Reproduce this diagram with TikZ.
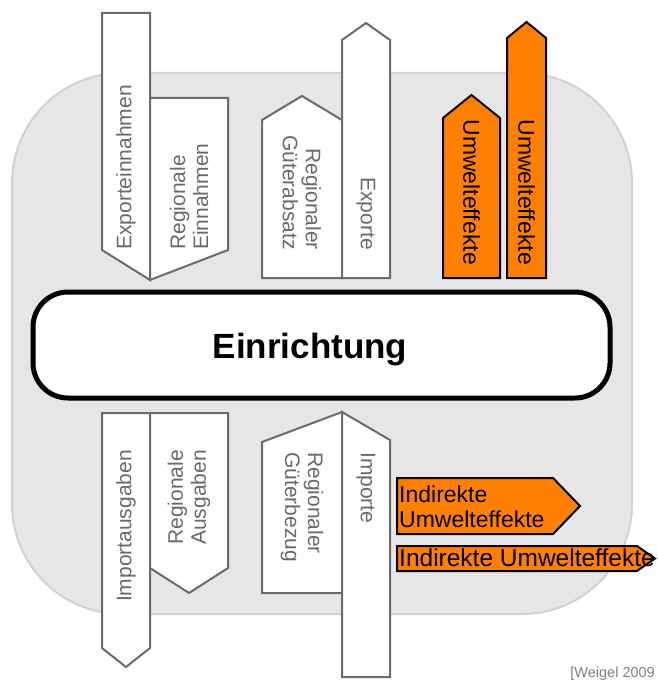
\documentclass[tikz,border=0pt]{standalone}
\usepackage{fontspec}
\setmainfont{Liberation Sans}
\definecolor{panelfill}{HTML}{E6E6E6}
\definecolor{paneledge}{HTML}{D2D2D2}
\definecolor{arrowgray}{HTML}{6B6B6B}
\definecolor{labelgray}{HTML}{6A6A6A}
\definecolor{orangefill}{HTML}{FF8000}
\definecolor{sourcegray}{HTML}{808080}
\begin{document}
\begin{tikzpicture}[x=1pt,y=-1pt,
  grayarrow/.style={draw=arrowgray, fill=white, line width=2pt, line join=miter},
  orangearrow/.style={draw=black, fill=orangefill, line width=2pt, line join=miter},
  graylabel/.style={text=labelgray, font=\fontsize{21}{23}\selectfont, inner sep=0pt},
  orangelabel/.style={text=black, font=\fontsize{23}{25}\selectfont, inner sep=0pt},
  hublabel/.style={font=\fontsize{35}{38}\selectfont\bfseries, inner sep=0pt},
]
\useasboundingbox (0,0) rectangle (657,682);

% background panel
\draw[fill=panelfill, draw=paneledge, line width=2pt, rounded corners=110pt]
  (12,73) rectangle (632,614);

% outgoing flows (top)
\draw[grayarrow] (102,13) -- (150,13) -- (150,280) -- (102,250) -- cycle;
\draw[grayarrow] (150,98) -- (228,98) -- (228,250) -- (150,280) -- cycle;
\draw[grayarrow] (262,278) -- (262,120) -- (302,96) -- (342,120) -- (342,278) -- cycle;
\draw[grayarrow] (342,278) -- (342,40) -- (366,23) -- (390,40) -- (390,278) -- cycle;
\draw[orangearrow] (443,278) -- (443,118) -- (471.5,95) -- (500,118) -- (500,278) -- cycle;
\draw[orangearrow] (507,278) -- (507,38) -- (526.5,22) -- (546,38) -- (546,278) -- cycle;

\node[graylabel, rotate=90, anchor=west] (exein) at (126,250) {Exporteinnahmen};
\node[graylabel, rotate=90, anchor=west, align=left] (regein) at (189,250) {Regionale\\Einnahmen};
\node[graylabel, rotate=-90, anchor=east, align=right] (gabsatz) at (302,250) {Regionaler\\Güterabsatz};
\node[graylabel, rotate=-90, anchor=east] (export) at (366,250) {Exporte};
\node[orangelabel, rotate=-90, anchor=east] (umw1) at (471.5,265) {Umwelteffekte};
\node[orangelabel, rotate=-90, anchor=east] (umw2) at (526.5,265) {Umwelteffekte};

% central facility
\node[draw=black, fill=white, line width=5pt, rounded corners=35pt,
      minimum width=577pt, minimum height=106pt, inner sep=0pt] (hub) at (321.5,345) {};
\node[hublabel, anchor=base] (hubtext) at (310,358) {Einrichtung};

% incoming flows (bottom)
\draw[grayarrow] (102,413) -- (150,413) -- (150,648) -- (126,667) -- (102,648) -- cycle;
\draw[grayarrow] (150,413) -- (228,413) -- (228,568) -- (189,593) -- (150,568) -- cycle;
\draw[grayarrow] (262,593) -- (262,442) -- (342,412) -- (342,593) -- cycle;
\draw[grayarrow] (342,677) -- (342,412) -- (390,440) -- (390,677) -- cycle;
\draw[orangearrow] (397,478) -- (553,478) -- (580,506) -- (553,534) -- (397,534) -- cycle;
\draw[orangearrow] (397,546) -- (637,546) -- (655,558.5) -- (637,571) -- (397,571) -- cycle;

\node[graylabel, rotate=90, anchor=east] (imaus) at (126,450) {Importausgaben};
\node[graylabel, rotate=90, anchor=east, align=right] (regaus) at (189,450) {Regionale\\Ausgaben};
\node[graylabel, rotate=-90, anchor=west, align=left] (gbezug) at (302,452) {Regionaler\\Güterbezug};
\node[graylabel, rotate=-90, anchor=west] (import) at (366,452) {Importe};
\node[orangelabel, anchor=west, align=left] (indir1) at (399,507) {Indirekte\\Umwelteffekte};
\node[orangelabel, font=\fontsize{24.5}{26}\selectfont, anchor=base west] (indir2) at (399,566) {Indirekte Umwelteffekte};

% source
\node[text=sourcegray, font=\fontsize{14.5}{16}\selectfont, anchor=base east, inner sep=0pt]
  (source) at (655,677) {[Weigel 2009};
\end{tikzpicture}
\end{document}
